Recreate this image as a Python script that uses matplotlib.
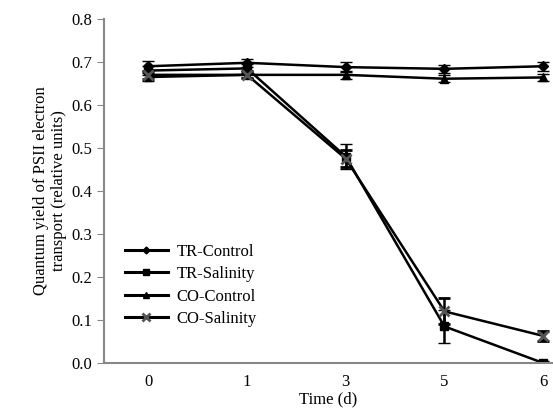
import matplotlib
matplotlib.use("Agg")
import matplotlib.pyplot as plt
from matplotlib.lines import Line2D

days = ["0", "1", "3", "5", "6"]

tr_control = [0.690, 0.698, 0.688, 0.684, 0.690]
tr_control_err = [0.012, 0.010, 0.012, 0.010, 0.010]
tr_salinity = [0.680, 0.685, 0.480, 0.085, 0.000]
tr_salinity_err = [0.010, 0.010, 0.030, 0.038, 0.004]
co_control = [0.665, 0.670, 0.670, 0.661, 0.664]
co_control_err = [0.010, 0.008, 0.010, 0.008, 0.008]
co_salinity = [0.670, 0.670, 0.475, 0.120, 0.063]
co_salinity_err = [0.010, 0.008, 0.020, 0.030, 0.012]

plt.rcParams.update({"font.family": "Liberation Serif", "font.size": 12})

fig = plt.figure(figsize=(5.53, 4.12), dpi=100)
ax = fig.add_axes([0.188, 0.119, 0.812, 0.835])

x = list(range(len(days)))
series = [
    ("TR-Control", tr_control, tr_control_err, "D", "black", 5),
    ("TR-Salinity", tr_salinity, tr_salinity_err, "s", "black", 6),
    ("CO-Control", co_control, co_control_err, "^", "black", 6),
    ("CO-Salinity", co_salinity, co_salinity_err, "x", "#555555", 7),
]
handles = []
for label, y, err, marker, mcolor, ms in series:
    mew = 2 if marker == "x" else 1
    ax.errorbar(x, y, yerr=err, color="black", linewidth=1.8, marker=marker,
                markersize=ms, markerfacecolor=mcolor, markeredgecolor=mcolor,
                markeredgewidth=mew, ecolor="black", elinewidth=1.8,
                capsize=4, capthick=1.8)
    handles.append(Line2D([], [], color="black", linewidth=2.2, marker=marker,
                          markersize=ms - 1.5, markerfacecolor=mcolor,
                          markeredgecolor=mcolor, markeredgewidth=mew, label=label))

ax.set_xlim(-0.45, 4.1)
ax.set_ylim(0, 0.8)
ax.set_xticks(x)
ax.set_xticklabels(days)
ax.set_yticks([i / 10 for i in range(9)])
ax.set_yticklabels([f"{i / 10:.1f}" for i in range(9)])
ax.tick_params(axis="x", length=0, pad=8)
ax.tick_params(axis="y", length=5, color="#888888", direction="out")

for side in ["top", "right"]:
    ax.spines[side].set_visible(False)
for side in ["left", "bottom"]:
    ax.spines[side].set_color("#888888")
    ax.spines[side].set_linewidth(1.5)

ax.set_xlabel("Time (d)", labelpad=1)
ax.set_ylabel("Quantum yield of PSII electron\ntransport (relative units)", labelpad=3)

ax.legend(handles=handles, loc="upper left", bbox_to_anchor=(0.02, 0.38),
          frameon=False, handlelength=2.6, handletextpad=0.5,
          labelspacing=0.38, borderaxespad=0.3)

fig.savefig("out.png", dpi=100)
